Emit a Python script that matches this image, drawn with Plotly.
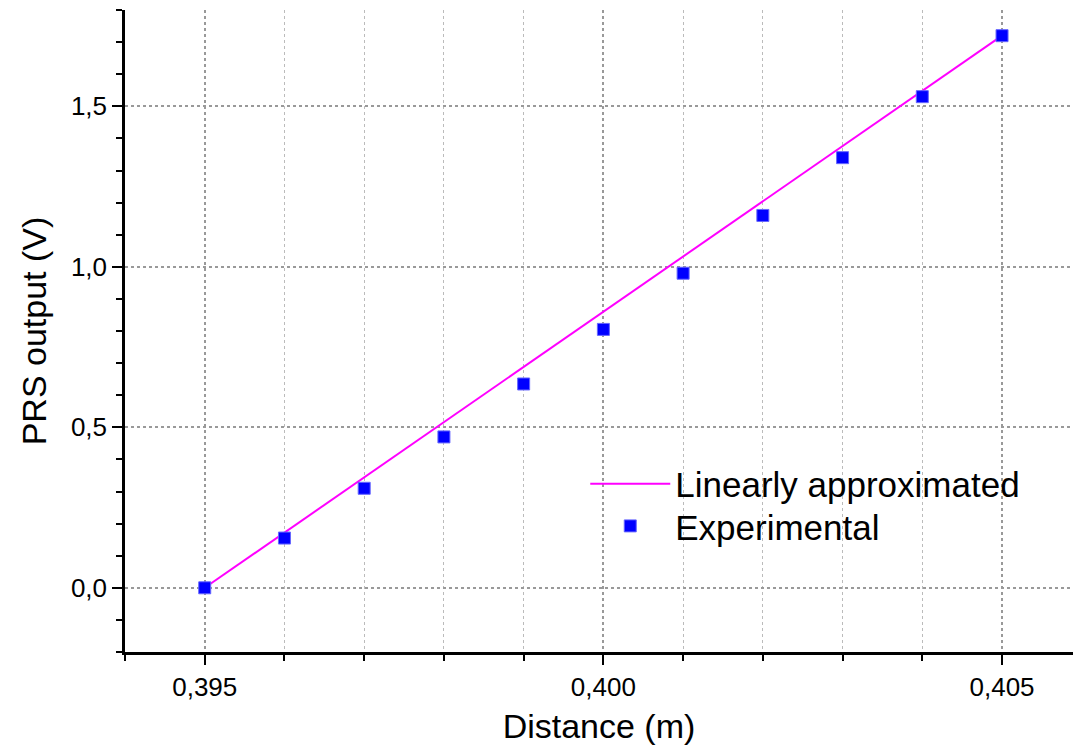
import plotly.graph_objects as go

# Data
distance_m = [0.395, 0.396, 0.397, 0.398, 0.399, 0.400, 0.401, 0.402, 0.403, 0.404, 0.405]
prs_output_v = [0.0, 0.155, 0.31, 0.47, 0.635, 0.805, 0.98, 1.16, 1.34, 1.53, 1.72]
fit_x = [0.395, 0.405]
fit_y = [0.0, 1.72]

x_tick_vals = [0.395, 0.400, 0.405]
y_tick_vals = [0.0, 0.5, 1.0, 1.5]

FONT = "Liberation Sans, Arial, sans-serif"

fig = go.Figure()
fig.add_trace(go.Scatter(
    x=fit_x, y=fit_y, mode="lines", name="Linearly approximated",
    line=dict(color="#FF00FF", width=2), legend="legend",
))
fig.add_trace(go.Scatter(
    x=distance_m, y=prs_output_v, mode="markers", name="Experimental",
    marker=dict(symbol="square", size=12, color="#0000FF",
                line=dict(color="#6666FF", width=1)),
    legend="legend2",
))

legend_common = dict(
    xanchor="left", yanchor="top",
    font=dict(size=35, family=FONT),
    itemwidth=80, bgcolor="rgba(0,0,0,0)",
)

fig.update_layout(
    width=1073, height=745,
    margin=dict(l=125, r=0, t=10, b=93),
    paper_bgcolor="white", plot_bgcolor="white",
    separators=", ",
    font=dict(family=FONT, color="black"),
    showlegend=True,
    legend=dict(x=0.4855, y=0.3076, **legend_common),
    legend2=dict(x=0.4855, y=0.242, **legend_common),
)

fig.update_xaxes(
    range=[0.394, 0.40589],
    tickmode="array", tickvals=x_tick_vals, tickformat=".3f",
    ticks="outside", ticklen=10, tickwidth=2, tickcolor="black",
    tickfont=dict(size=26, family=FONT),
    showline=True, linecolor="black", linewidth=2.5,
    showgrid=True, gridcolor="#999999", griddash="dot", gridwidth=1.5,
    zeroline=False,
    minor=dict(dtick=0.001, tick0=0.394, ticks="outside", ticklen=6,
               tickwidth=2, tickcolor="black",
               showgrid=True, gridcolor="#BBBBBB", griddash="dot", gridwidth=1),
    title=dict(text="Distance (m)", font=dict(size=34, family=FONT), standoff=16),
)
fig.update_yaxes(
    range=[-0.2, 1.8],
    tickmode="array", tickvals=y_tick_vals, tickformat=".1f",
    ticks="outside", ticklen=10, tickwidth=2, tickcolor="black",
    tickfont=dict(size=26, family=FONT),
    showline=True, linecolor="black", linewidth=2.5,
    showgrid=True, gridcolor="#999999", griddash="dot", gridwidth=1.5,
    zeroline=False,
    minor=dict(dtick=0.1, tick0=-0.2, ticks="outside", ticklen=6,
               tickwidth=2, tickcolor="black", showgrid=False),
    title=dict(text="PRS output (V)", font=dict(size=34, family=FONT), standoff=14),
)

fig.write_html("out.html")
